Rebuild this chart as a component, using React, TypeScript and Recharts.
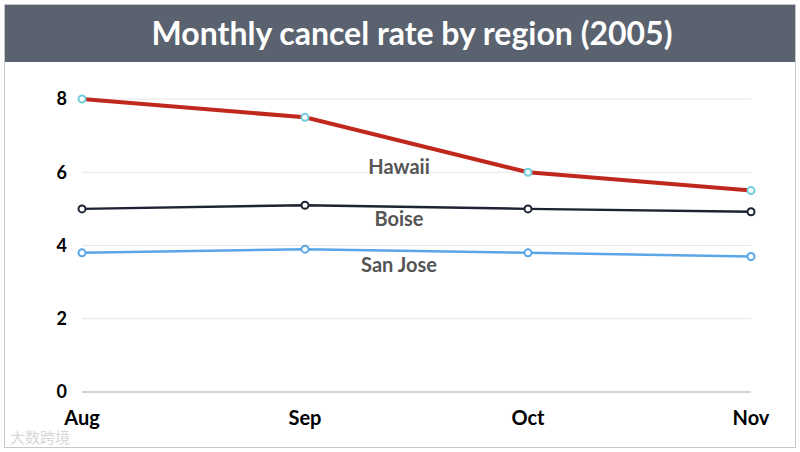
import React from "react";
import { LineChart, Line, XAxis, YAxis, CartesianGrid, LabelList } from "recharts";

const months = ["Aug", "Sep", "Oct", "Nov"];
const hawaii = [8.0, 7.5, 6.0, 5.5];
const boise = [5.0, 5.1, 5.0, 4.92];
const sanJose = [3.8, 3.9, 3.8, 3.7];
const yTicks = [0, 2, 4, 6, 8];

const data = months.map((m, i) => ({ month: m, Hawaii: hawaii[i], Boise: boise[i], "San Jose": sanJose[i] }));

const FONT = "Lato, 'Open Sans', sans-serif";

const makeLabel = (name: string, dy: number) => (props: any) => {
  const { x, y, index } = props;
  if (index !== 1) return null;
  return (
    <text x={x + 94} y={y + dy} textAnchor="middle" dominantBaseline="central" fill="#555" fontSize={20} fontWeight={700} fontFamily={FONT}>
      {name}
    </text>
  );
};

export default function App() {
  return (
    <div style={{ position: "absolute", left: 0, top: 0, width: 800, height: 452, background: "#fff", fontFamily: FONT }}>
      <div style={{ position: "absolute", left: 4, top: 4, width: 790, height: 442, border: "1px solid #c8c8c8" }} />
      <div style={{ position: "absolute", left: 5, top: 5, width: 766, paddingLeft: 24, height: 57, background: "#59626e", color: "#fff", fontSize: 32, fontWeight: 700, textAlign: "center", lineHeight: "56px" }}>
        Monthly cancel rate by region (2005)
      </div>
      <div style={{ position: "absolute", left: 0, top: 0 }}>
        <LineChart width={800} height={452} data={data} margin={{ top: 99, right: 49, bottom: 20, left: 42 }}>
          <CartesianGrid vertical={false} stroke="#e6e6e6" />
          <XAxis dataKey="month" axisLine={{ stroke: "#c8c8c8", strokeWidth: 1.5 }} tickLine={false} tickSize={0} tickMargin={19} height={40}
            tick={{ fill: "#000", fontSize: 20, fontWeight: 700, fontFamily: FONT }} interval={0} />
          <YAxis domain={[0, 8]} ticks={yTicks} axisLine={false} tickLine={false} tickSize={0} tickMargin={15} width={40}
            tick={{ fill: "#000", fontSize: 18, fontWeight: 700, fontFamily: FONT }} />
          <Line dataKey="Hawaii" stroke="#c0281d" strokeWidth={4} isAnimationActive={false}
            dot={{ r: 3.5, stroke: "#6fd0dc", strokeWidth: 2, fill: "#fff" }}>
            <LabelList content={makeLabel("Hawaii", 49)} />
          </Line>
          <Line dataKey="Boise" stroke="#1d2333" strokeWidth={2.5} isAnimationActive={false}
            dot={{ r: 3.5, stroke: "#1d2333", strokeWidth: 2, fill: "#fff" }}>
            <LabelList content={makeLabel("Boise", 13)} />
          </Line>
          <Line dataKey="San Jose" stroke="#5aa6e6" strokeWidth={2.5} isAnimationActive={false}
            dot={{ r: 3.5, stroke: "#5aa6e6", strokeWidth: 2, fill: "#fff" }}>
            <LabelList content={makeLabel("San Jose", 15)} />
          </Line>
        </LineChart>
      </div>
      <div style={{ position: "absolute", left: 10, top: 426, color: "#d8d8d8", fontSize: 15, fontFamily: "'Noto Sans CJK SC', sans-serif" }}>
        大数跨境
      </div>
    </div>
  );
}
